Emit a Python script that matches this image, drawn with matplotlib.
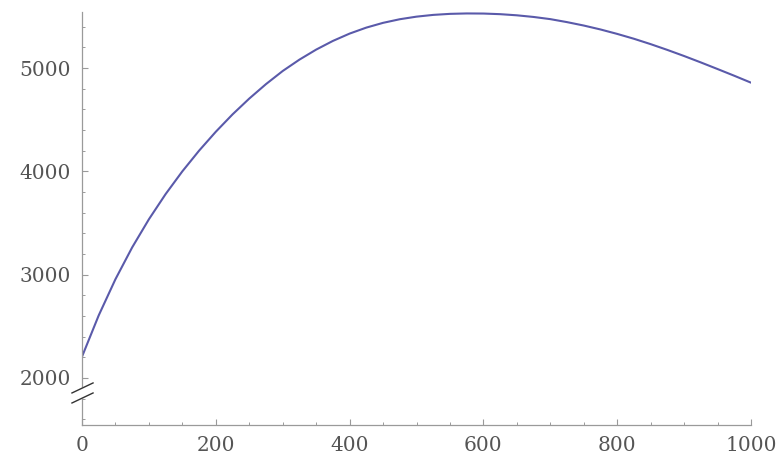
import matplotlib
matplotlib.use("Agg")
import matplotlib.pyplot as plt
from matplotlib.ticker import MultipleLocator, FixedLocator

x_vals = [0, 25, 50, 75, 100, 125, 150, 175, 200, 225, 250, 275, 300, 325, 350,
          375, 400, 425, 450, 475, 500, 525, 550, 575, 600, 625, 650, 675, 700,
          725, 750, 775, 800, 825, 850, 875, 900, 925, 950, 975, 1000]
y_vals = [2206, 2606, 2956, 3264, 3536, 3780, 4000, 4200, 4383, 4551, 4704, 4844,
          4971, 5081, 5178, 5262, 5333, 5391, 5437, 5472, 5497, 5514, 5524, 5528,
          5527, 5521, 5510, 5494, 5473, 5444, 5411, 5373, 5330, 5283, 5231, 5175,
          5116, 5054, 4990, 4925, 4858]
x_ticks = [0, 200, 400, 600, 800, 1000]
y_ticks = [2000, 3000, 4000, 5000]

fig = plt.figure(figsize=(7.81, 4.74), dpi=100)
ax = fig.add_axes([82/781, 49/474, 669/781, 413/474])
ax.plot(x_vals, y_vals, color="#5a5aaa", lw=1.5, solid_capstyle="round",
        solid_joinstyle="round")

ax.set_xlim(0, 1000)
ax.set_ylim(1545, 5542)

axis_col = "#9a9a9a"
for s in ["top", "right"]:
    ax.spines[s].set_visible(False)
for s in ["left", "bottom"]:
    ax.spines[s].set_color(axis_col)
    ax.spines[s].set_linewidth(0.9)

ax.xaxis.set_major_locator(FixedLocator(x_ticks))
ax.xaxis.set_minor_locator(MultipleLocator(50))
ax.yaxis.set_major_locator(FixedLocator(y_ticks))
ax.yaxis.set_minor_locator(MultipleLocator(200))
ax.tick_params(which="major", direction="in", length=4, width=0.8, color=axis_col,
               labelsize=14.5, labelcolor="#555555", pad=8)
ax.tick_params(which="minor", direction="in", length=2.5, width=0.7, color=axis_col)
for lab in ax.get_xticklabels() + ax.get_yticklabels():
    lab.set_fontfamily("DejaVu Serif")

# axis break marks
tr = ax.get_yaxis_transform()
ax.fill([-0.015, 0.0165, 0.0165, -0.015], [1758, 1855, 1952, 1855], color="white",
        transform=tr, clip_on=False, zorder=5)
ax.plot([-0.015, 0.0165], [1855, 1952], color="#333333", lw=1.0, transform=tr,
        clip_on=False, zorder=6)
ax.plot([-0.015, 0.0165], [1758, 1855], color="#333333", lw=1.0, transform=tr,
        clip_on=False, zorder=6)

fig.savefig("out.png", dpi=100)
